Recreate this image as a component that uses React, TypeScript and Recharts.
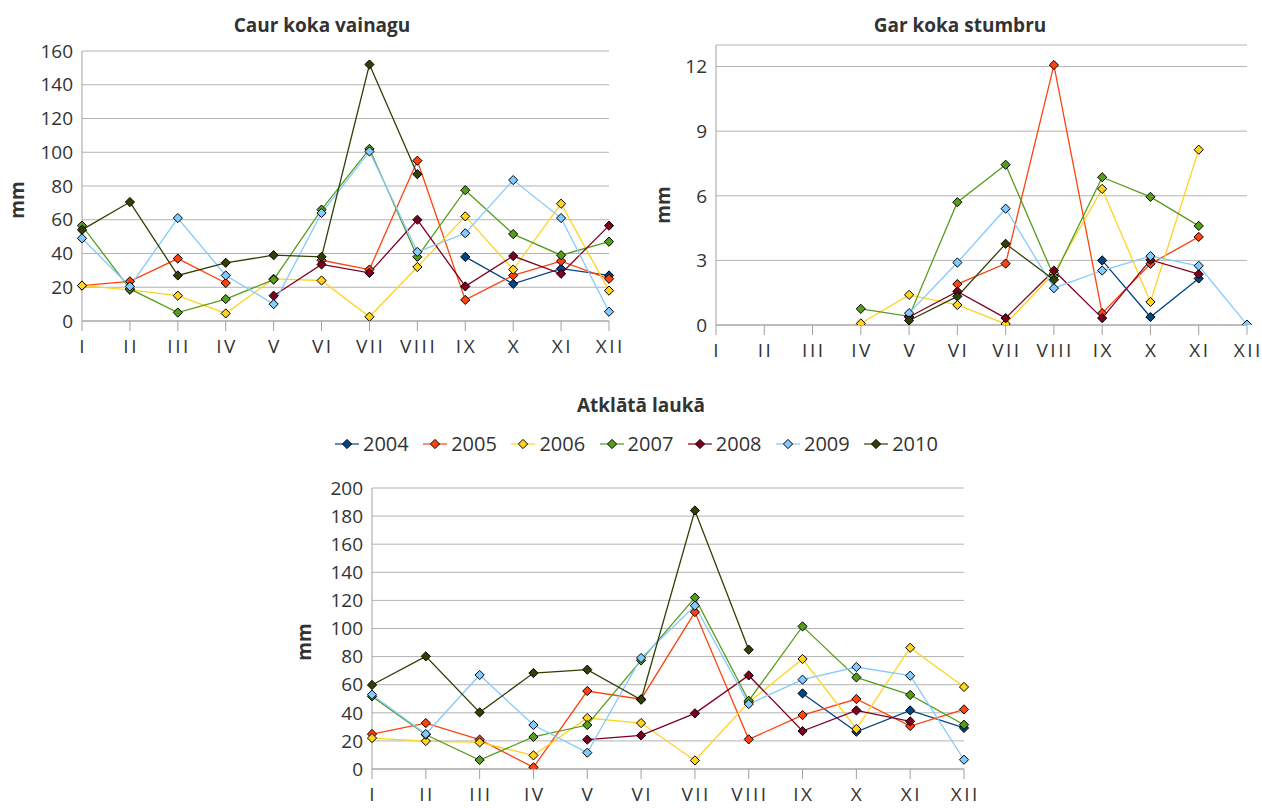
import { LineChart, Line, XAxis, YAxis, CartesianGrid } from "recharts";

const months = ["I", "II", "III", "IV", "V", "VI", "VII", "VIII", "IX", "X", "XI", "XII"];
const years = ["2004", "2005", "2006", "2007", "2008", "2009", "2010"];
const colors = ["#004586", "#ff420e", "#ffd320", "#579d1c", "#7e0021", "#83caff", "#314004"];

const _ = null;

// Caur koka vainagu
const crown2004 = [_, _, _, _, _, _, _, _, 38, 22, 31, 27];
const crown2005 = [21, 23.5, 37, 22.5, _, 36, 30.5, 95, 12.5, 27, 35.5, 25];
const crown2006 = [21, 18.5, 15, 4.5, 25, 24, 2.5, 32, 62, 30.5, 69.5, 18];
const crown2007 = [56.5, 19, 5, 13, 24.5, 66, 102, 38, 77.5, 51.5, 39, 47];
const crown2008 = [_, _, _, _, 15, 33.5, 28.5, 60, 20.5, 38.5, 28, 56.5];
const crown2009 = [49, 20.5, 61, 27, 10, 64, 100.5, 41, 52, 83.5, 61, 5.5];
const crown2010 = [54, 70.5, 27, 34.5, 39, 38, 152, 87, _, _, _, _];

// Gar koka stumbru
const stem2004 = [_, _, _, _, _, _, _, _, 3.0, 0.37, 2.16, _];
const stem2005 = [_, _, _, _, _, 1.9, 2.85, 12.07, 0.55, 2.84, 4.09, _];
const stem2006 = [_, _, _, 0.07, 1.4, 0.93, 0.05, 2.4, 6.32, 1.07, 8.14, _];
const stem2007 = [_, _, _, 0.75, 0.4, 5.7, 7.44, 2.25, 6.86, 5.95, 4.6, _];
const stem2008 = [_, _, _, _, 0.37, 1.56, 0.32, 2.53, 0.32, 3.02, 2.36, _];
const stem2009 = [_, _, _, _, 0.55, 2.9, 5.4, 1.71, 2.53, 3.2, 2.75, 0.02];
const stem2010 = [_, _, _, _, 0.21, 1.33, 3.77, 2.1, _, _, _, _];

// Atklātā laukā
const open2004 = [_, _, _, _, _, _, _, _, 53.8, 26.5, 41.7, 29.2];
const open2005 = [24.9, 32.7, 20.9, 1.2, 55.5, 49.7, 111.7, 21.1, 38.4, 49.8, 30.6, 42.4];
const open2006 = [22, 19.9, 18.9, 9.7, 36.3, 32.7, 6.1, 47.5, 78.3, 28.5, 86.3, 58.4];
const open2007 = [51.7, 24.4, 6.4, 22.8, 31.3, 77.3, 122, 48.6, 101.5, 65.2, 52.7, 31.5];
const open2008 = [_, _, _, _, 20.9, 23.9, 39.6, 66.6, 27, 41.7, 33.9, _];
const open2009 = [52.9, 24.9, 66.9, 31.3, 11.6, 79, 116.2, 46.2, 63.6, 72.6, 66.4, 6.6];
const open2010 = [59.8, 80.2, 40.3, 68.3, 70.7, 49.3, 184, 84.9, _, _, _, _];

const crownTicks = [0, 20, 40, 60, 80, 100, 120, 140, 160];
const stemTicks = [0, 3, 6, 9, 12];
const openTicks = [0, 20, 40, 60, 80, 100, 120, 140, 160, 180, 200];

const buildRows = (series: (number | null)[][]) =>
  months.map((m, i) => {
    const row: any = { month: m };
    years.forEach((y, k) => {
      row[y] = series[k][i];
    });
    return row;
  });

const crownData = buildRows([crown2004, crown2005, crown2006, crown2007, crown2008, crown2009, crown2010]);
const stemData = buildRows([stem2004, stem2005, stem2006, stem2007, stem2008, stem2009, stem2010]);
const openData = buildRows([open2004, open2005, open2006, open2007, open2008, open2009, open2010]);

const TEXT = "#333333";
const FONT = "'Open Sans', 'DejaVu Sans', sans-serif";

const diamond = (color: string) => (props: any) => {
  const { cx, cy, index, value } = props;
  if (value == null || cx == null || cy == null) return <g key={`d-${index}`} />;
  const r = 4.6;
  return (
    <polygon
      key={`d-${index}`}
      points={`${cx},${cy - r} ${cx + r},${cy} ${cx},${cy + r} ${cx - r},${cy}`}
      fill={color}
      stroke="#000"
      strokeWidth={1}
    />
  );
};

// month labels are spaced out like in the original
const MonthTick = (props: any) => {
  const { x, y, payload } = props;
  return (
    <text
      x={x + 1.25}
      y={y + 9}
      dy="0.71em"
      textAnchor="middle"
      fill={TEXT}
      style={{ fontFamily: FONT, fontSize: 19, letterSpacing: "2.5px" }}
    >
      {payload.value}
    </text>
  );
};

interface PanelProps {
  data: any[];
  width: number;
  height: number;
  margin: { top: number; right: number; left: number; bottom: number };
  yWidth: number;
  xHeight: number;
  domain: [number, number];
  ticks: number[];
}

function Panel({ data, width, height, margin, yWidth, xHeight, domain, ticks }: PanelProps) {
  return (
    <LineChart width={width} height={height} data={data} margin={margin} style={{ fontFamily: FONT, overflow: "visible" }}>
      <CartesianGrid vertical={false} stroke="#b3b3b3" />
      <XAxis
        dataKey="month"
        height={xHeight}
        stroke="#a0a0a0"
        tickSize={10}
        tickMargin={0}
        tick={<MonthTick />}
        interval={0}
      />
      <YAxis
        width={yWidth}
        domain={domain}
        ticks={ticks}
        allowDataOverflow
        stroke="#a0a0a0"
        tickLine={false}
        tickSize={0}
        tickMargin={9}
        tick={{ fill: TEXT, fontSize: 19, fontFamily: FONT }}
        interval={0}
      />
      {years.map((y, k) => (
        <Line
          key={y}
          dataKey={y}
          type="linear"
          stroke={colors[k]}
          strokeWidth={1.3}
          dot={diamond(colors[k])}
          activeDot={false}
          isAnimationActive={false}
        />
      ))}
    </LineChart>
  );
}

const abs = (left: number, top: number): React.CSSProperties => ({ position: "absolute", left, top });

const titleStyle = (cx: number, cy: number): React.CSSProperties => ({
  position: "absolute",
  left: cx,
  top: cy,
  transform: "translate(-50%, -50%)",
  fontWeight: 700,
  fontSize: 19,
  color: TEXT,
  whiteSpace: "nowrap",
});

const mmStyle = (cx: number, cy: number): React.CSSProperties => ({
  position: "absolute",
  left: cx,
  top: cy,
  transform: "translate(-50%, -50%) rotate(-90deg)",
  fontWeight: 700,
  fontSize: 19,
  color: TEXT,
  whiteSpace: "nowrap",
});

export default function App() {
  return (
    <div
      style={{
        position: "absolute",
        left: 0,
        top: 0,
        width: 1262,
        height: 808,
        background: "#fff",
        fontFamily: FONT,
        overflow: "hidden",
      }}
    >
      <div style={titleStyle(322, 25)}>Caur koka vainagu</div>
      <div style={titleStyle(960, 25)}>Gar koka stumbru</div>
      <div style={titleStyle(641, 405)}>Atklātā laukā</div>

      <div style={mmStyle(17, 200)}>mm</div>
      <div style={mmStyle(663, 205)}>mm</div>
      <div style={mmStyle(304, 642)}>mm</div>

      <div style={abs(0, 0)}>
        <Panel
          data={crownData}
          width={630}
          height={362}
          margin={{ top: 51, right: 21, left: 0, bottom: 0 }}
          yWidth={82}
          xHeight={41}
          domain={[0, 160]}
          ticks={crownTicks}
        />
      </div>
      <div style={abs(640, 0)}>
        <Panel
          data={stemData}
          width={622}
          height={362}
          margin={{ top: 45, right: 15, left: 0, bottom: 0 }}
          yWidth={76}
          xHeight={37}
          domain={[0, 13]}
          ticks={stemTicks}
        />
      </div>
      <div style={abs(290, 460)}>
        <Panel
          data={openData}
          width={700}
          height={348}
          margin={{ top: 28, right: 26, left: 0, bottom: 0 }}
          yWidth={82}
          xHeight={39}
          domain={[0, 200]}
          ticks={openTicks}
        />
      </div>

      {/* legend */}
      {years.map((y, k) => (
        <div key={y} style={{ position: "absolute", left: 347 + k * 88.2 - 12, top: 444, transform: "translateY(-50%)", display: "flex", alignItems: "center" }}>
          <svg width={24} height={12}>
            <line x1={0} y1={6} x2={24} y2={6} stroke={colors[k]} strokeWidth={2} opacity={0.6} />
            <polygon points="12,1.4 16.6,6 12,10.6 7.4,6" fill={colors[k]} stroke="#000" strokeWidth={1} />
          </svg>
          <span style={{ fontSize: 20, color: TEXT, marginLeft: 4, lineHeight: "22px" }}>{y}</span>
        </div>
      ))}
    </div>
  );
}
